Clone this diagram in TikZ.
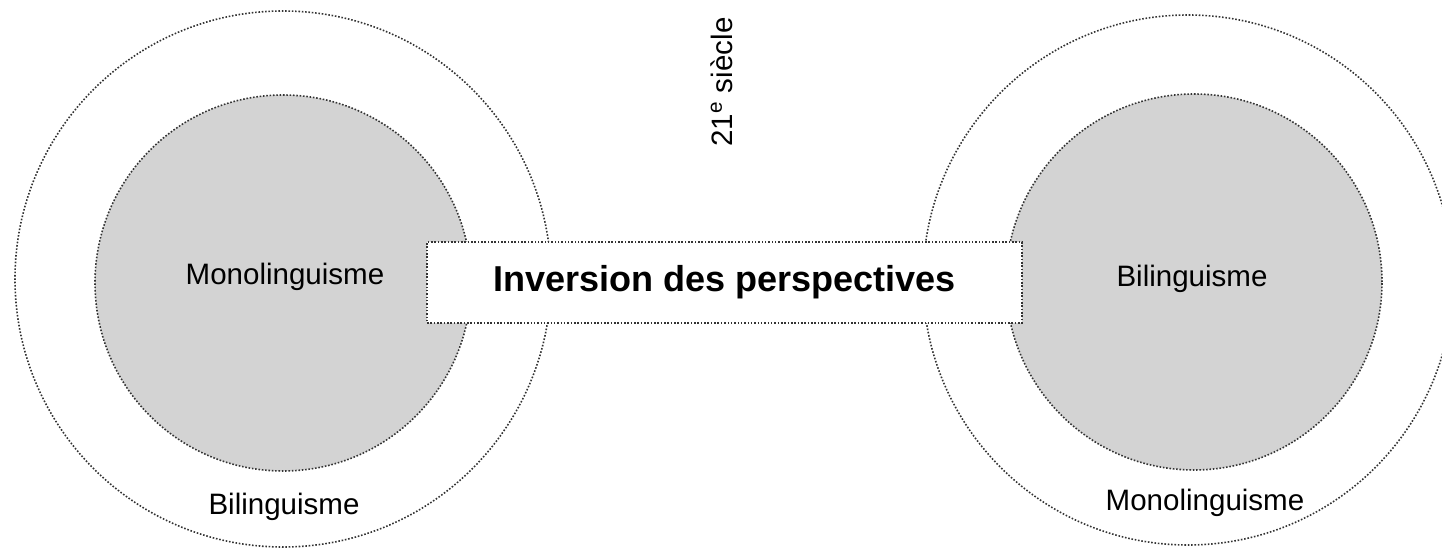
\documentclass[tikz,border=0pt]{standalone}
\usepackage{fontspec}
\setmainfont{Liberation Sans}
\definecolor{lightgrey}{RGB}{211,211,211}
\begin{document}
\begin{tikzpicture}[scale=1,
  ring/.style={draw=black!80, densely dotted, line width=0.9pt, circle, inner sep=0pt},
  label/.style={font=\fontsize{16.8}{20}\selectfont}]
\useasboundingbox (0,0) rectangle (28.84,11);

\node[ring, fill=white, minimum size=10.72cm] (leftout) at (5.66,5.42) {};
\node[ring, fill=white, minimum size=10.6cm] (rightout) at (23.76,5.40) {};
\node[ring, fill=lightgrey, minimum size=7.52cm] (leftin) at (5.66,5.34) {};
\node[ring, fill=lightgrey, minimum size=7.52cm] (rightin) at (23.88,5.36) {};

\node[label] (mono) at (5.70,5.46) {Monolinguisme};
\node[label] (bili) at (5.68,0.86) {Bilinguisme};
\node[label] (bili2) at (23.84,5.42) {Bilinguisme};
\node[label] (mono2) at (24.10,0.94) {Monolinguisme};

\node[draw=black!80, densely dotted, line width=0.9pt, rectangle, fill=white,
  minimum width=11.9cm, minimum height=1.62cm,
  font=\bfseries\fontsize{20.5}{24}\selectfont] (inv) at (14.49,5.35) {Inversion des perspectives};

\node[label, rotate=90] (century) at (14.44,9.36) {21\textsuperscript{e} siècle};
\end{tikzpicture}
\end{document}
